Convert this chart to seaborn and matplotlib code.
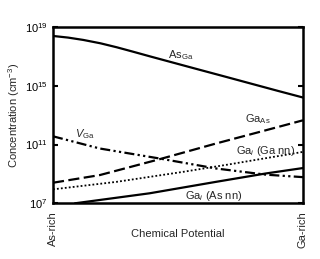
import numpy as np
import pandas as pd
import matplotlib
matplotlib.use("Agg")
import matplotlib.pyplot as plt
import seaborn as sns

# ---- data (x: fraction from As-rich (0) to Ga-rich (1); y: log10 concentration) ----
asga_x = [0.0, 0.06, 0.121, 0.19, 0.255, 0.32, 0.388, 0.501, 0.586, 0.689, 0.789, 0.9, 1.0]
asga_y = [18.39, 18.28, 18.12, 17.89, 17.62, 17.32, 17.0, 16.48, 16.09, 15.62, 15.16, 14.65, 14.2]

gaas_x = [0.0, 0.187, 0.426, 0.652, 0.851, 1.0]
gaas_y = [8.40, 8.92, 10.0, 11.07, 11.97, 12.65]

vga_x = [0.0, 0.187, 0.426, 0.652, 0.851, 1.0]
vga_y = [11.56, 10.73, 10.05, 9.37, 8.95, 8.78]

gai_ga_x = [0.0, 0.254, 0.52, 0.705, 1.0]
gai_ga_y = [7.95, 8.46, 9.14, 9.65, 10.5]

gai_as_x = [0.088, 0.386, 0.652, 0.851, 1.0]
gai_as_y = [7.0, 7.68, 8.46, 9.03, 9.4]

ytick_exp = [7, 11, 15, 19]
xtick_labels = ["As-rich", "Ga-rich"]

series = [
    ("As_Ga", asga_x, asga_y),
    ("Ga_As", gaas_x, gaas_y),
    ("V_Ga", vga_x, vga_y),
    ("Ga_i (Ga nn)", gai_ga_x, gai_ga_y),
    ("Ga_i (As nn)", gai_as_x, gai_as_y),
]
frames = []
for name, xs, ys in series:
    frames.append(pd.DataFrame({"x": xs, "conc": 10.0 ** np.array(ys), "series": name}))
df = pd.concat(frames, ignore_index=True)

styles = {
    "As_Ga": None,
    "Ga_As": (5, 2),
    "V_Ga": (4.5, 1.5, 1, 1.5, 1, 1.5),
    "Ga_i (Ga nn)": (1, 1.2),
    "Ga_i (As nn)": None,
}

sns.set_style("ticks")
plt.rcParams["font.family"] = ["Liberation Sans", "DejaVu Sans"]
plt.rcParams["mathtext.fontset"] = "custom"
plt.rcParams["mathtext.rm"] = "Liberation Sans"
plt.rcParams["mathtext.it"] = "Liberation Sans:italic"
plt.rcParams["mathtext.default"] = "regular"

fig = plt.figure(figsize=(3.2, 2.59), dpi=100)
ax = fig.add_axes([53 / 320, 1 - 203.3 / 259, 250 / 320, 176.3 / 259])

for name, _, _ in series:
    sub = df[df["series"] == name]
    sns.lineplot(data=sub, x="x", y="conc", ax=ax, color="black", lw=1.6, legend=False)
    line = ax.lines[-1]
    if styles[name] is not None:
        line.set_dashes(styles[name])
        if name == "Ga_i (Ga nn)":
            line.set_linewidth(1.3)

ax.set_yscale("log")
ax.set_xlim(0, 1)
ax.set_ylim(1e7, 1e19)
ax.set_yticks([10.0 ** e for e in ytick_exp])
ax.set_yticklabels([r"$10^{%d}$" % e for e in ytick_exp])
ax.minorticks_off()
ax.tick_params(axis="y", which="major", direction="in", length=3.5, width=1.5,
               right=True, labelsize=8, pad=4, colors="black")
ax.set_xticks([0, 1])
ax.set_xticklabels(xtick_labels, rotation=90, va="top", ha="center")
ax.tick_params(axis="x", length=0, labelsize=8, pad=6)

for sp in ax.spines.values():
    sp.set_linewidth(1.8)
    sp.set_color("black")

ax.set_xlabel("Chemical Potential", fontsize=8, labelpad=-14)
ax.set_ylabel(r"Concentration (cm$^{-3}$)", fontsize=8, labelpad=2)

kw = dict(transform=ax.transAxes, fontsize=8, va="baseline", ha="left")
ax.text(0.46, 0.824, r"As$_{Ga}$", **kw)
ax.text(0.768, 0.461, r"Ga$_{As}$", **kw)
ax.text(0.088, 0.376, r"$\mathit{V}_{Ga}$", **kw)
ax.text(0.732, 0.28, r"Ga$_{\mathit{i}}$ (Ga nn)", **kw)
ax.text(0.528, 0.024, r"Ga$_{\mathit{i}}$ (As nn)", **kw)

fig.savefig("out.png", dpi=100)
